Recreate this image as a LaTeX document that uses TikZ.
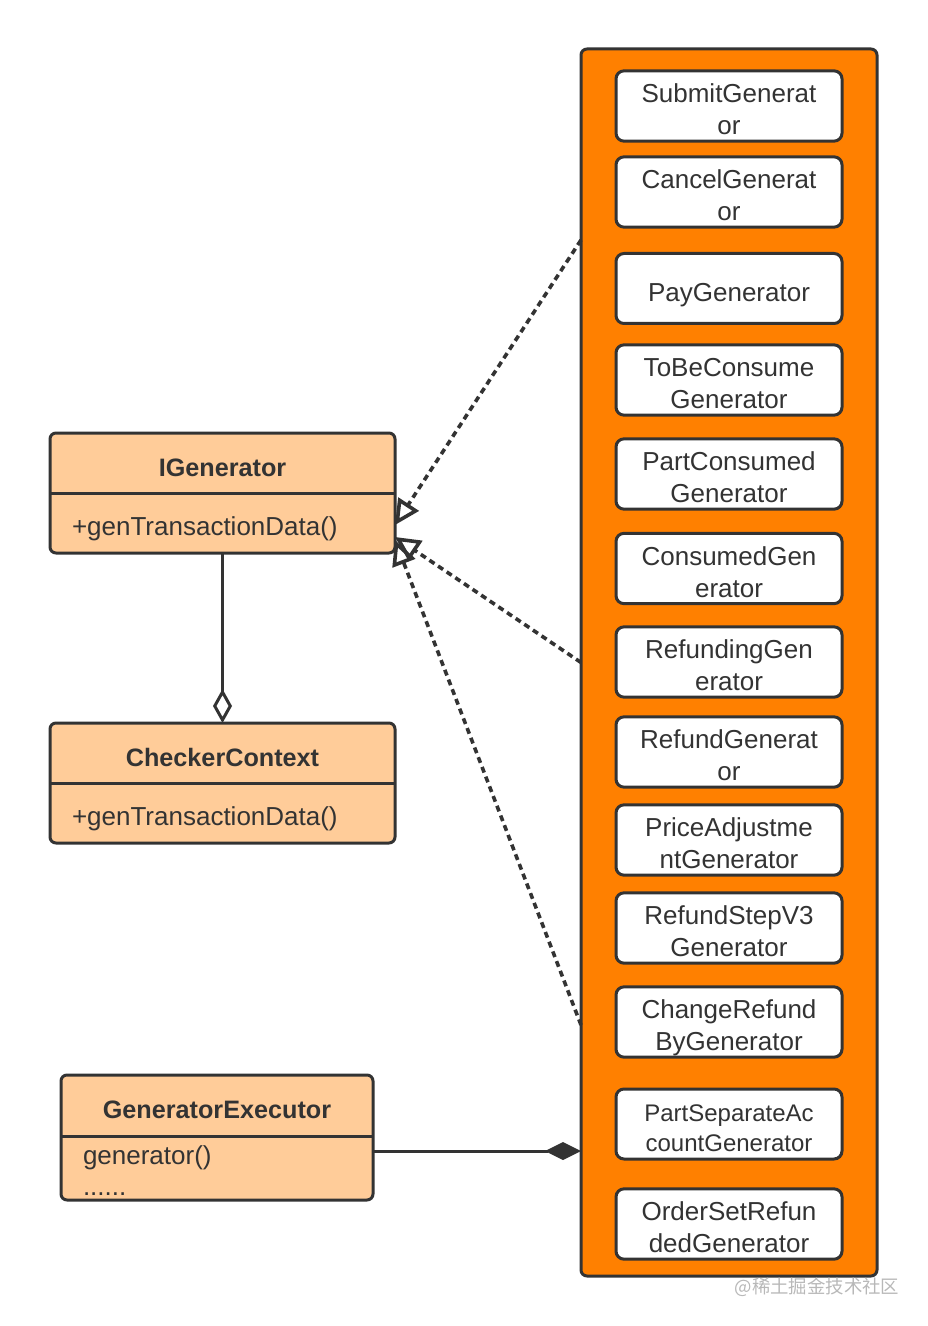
\documentclass[tikz,border=0pt]{standalone}
\usepackage{fontspec}
\setmainfont{Liberation Sans}
\newfontfamily\cjk{Noto Sans CJK SC}
\usetikzlibrary{arrows.meta}
\definecolor{ink}{HTML}{333333}
\definecolor{peach}{HTML}{FFCC99}
\definecolor{deeporange}{HTML}{FF8000}

\begin{document}
\begin{tikzpicture}[x=0.5pt, y=-0.5pt,
			every node/.style={text=ink, outer sep=0pt},
			classbox/.style={draw=ink, line width=1.5pt, fill=peach, rounded corners=3pt},
			classhead/.style={anchor=north, minimum height=30pt, font=\fontsize{12.6}{15}\selectfont\bfseries, execute at begin node={\rule{0pt}{13.5pt}}},
			classbody/.style={anchor=north west, align=left, inner xsep=11pt, font=\fontsize{13}{15.5}\selectfont},
			genbox/.style={draw=ink, line width=1.5pt, fill=white, rounded corners=4pt, minimum width=113pt, minimum height=35pt, align=center, font=\fontsize{13}{16}\selectfont, text height=28.5pt, text depth=0pt},
			sep/.style={draw=ink, line width=1.5pt},
			realize/.style={-{Triangle[open, length=12.5pt, width=12pt]}, draw=ink, line width=1.8pt, dash pattern=on 3pt off 2.2pt},
			aggr/.style={-{Diamond[open, length=17pt, width=9.5pt]}, draw=ink, line width=1.5pt},
			compose/.style={-{Diamond[length=18pt, width=9pt]}, draw=ink, line width=1.5pt}
			]
			\useasboundingbox (0,0) rectangle (927,1326);
			
			% Classes
			\node[classbox, minimum width=172.5pt, minimum height=60pt] (igen) at (222.5,493) {};
			\node[classhead, minimum width=172.5pt] (igenhead) at (igen.north) {IGenerator};
			\draw[sep] (igenhead.south west) -- (igenhead.south east);
			\node[classbody, minimum height=30pt, execute at begin node={\rule{0pt}{15.5pt}}] (igenbody) at (igenhead.south west) {+genTransactionData()};
			
			\node[classbox, minimum width=172.5pt, minimum height=60pt] (ctx) at (222.5,783) {};
			\node[classhead, minimum width=172.5pt] (ctxhead) at (ctx.north) {CheckerContext};
			\draw[sep] (ctxhead.south west) -- (ctxhead.south east);
			\node[classbody, minimum height=30pt, execute at begin node={\rule{0pt}{15.5pt}}] (ctxbody) at (ctxhead.south west) {+genTransactionData()};
			
			\node[classbox, minimum width=156pt, minimum height=62.5pt] (exec) at (217,1137.5) {};
			\node[classhead, minimum width=156pt, minimum height=30.5pt] (exechead) at (exec.north) {GeneratorExecutor};
			\draw[sep] (exechead.south west) -- (exechead.south east);
			\node[classbody, inner ysep=5pt] (execbody) at (exechead.south west) {generator()\\......};
			
			% Generators
			\node[draw=ink, line width=1.5pt, fill=deeporange, rounded corners=3pt, minimum width=148pt, minimum height=613.5pt] (cont) at (729,662.5) {};
			\node[genbox] (g1) at (729,106) {SubmitGenerat\\or};
			\node[genbox] (g2) at (729,192) {CancelGenerat\\or};
			\node[genbox, text height=15.5pt, text depth=2.7pt] (g3) at (729,288.5) {PayGenerator};
			\node[genbox] (g4) at (729,380) {ToBeConsume\\Generator};
			\node[genbox] (g5) at (729,474) {PartConsumed\\Generator};
			\node[genbox] (g6) at (729,568.5) {ConsumedGen\\erator};
			\node[genbox] (g7) at (729,662) {RefundingGen\\erator};
			\node[genbox] (g8) at (729,752) {RefundGenerat\\or};
			\node[genbox] (g9) at (729,840) {PriceAdjustme\\ntGenerator};
			\node[genbox] (g10) at (729,928) {RefundStepV3\\Generator};
			\node[genbox] (g11) at (729,1022) {ChangeRefund\\ByGenerator};
			\node[genbox, font=\fontsize{12}{15}\selectfont, text height=27pt] (g12) at (729,1124) {PartSeparateAc\\countGenerator};
			\node[genbox] (g13) at (729,1224) {OrderSetRefun\\dedGenerator};
			
			% Generators to IGenerator
			\draw[realize] ([yshift=211.25pt]cont.west) -- ([yshift=-16pt]igen.east);
			\draw[realize] (cont.west) -- ([yshift=-22pt]igen.east);
			\draw[realize] ([yshift=-181.25pt]cont.west) -- ([yshift=-23.5pt]igen.east);
			
			% IGenerator to CheckerContext
			\draw[aggr] (igen) -- (ctx);
			
			% GeneratorExecutor to generators
			\draw[compose] ([yshift=-6.75pt]exec.east) -- ([yshift=-244.25pt]cont.west);
			
			\node[text=black!28, font=\cjk\fontsize{9.2}{11}\selectfont] (mark) at (817,1287) {@稀土掘金技术社区};
		\end{tikzpicture}
\end{document}
